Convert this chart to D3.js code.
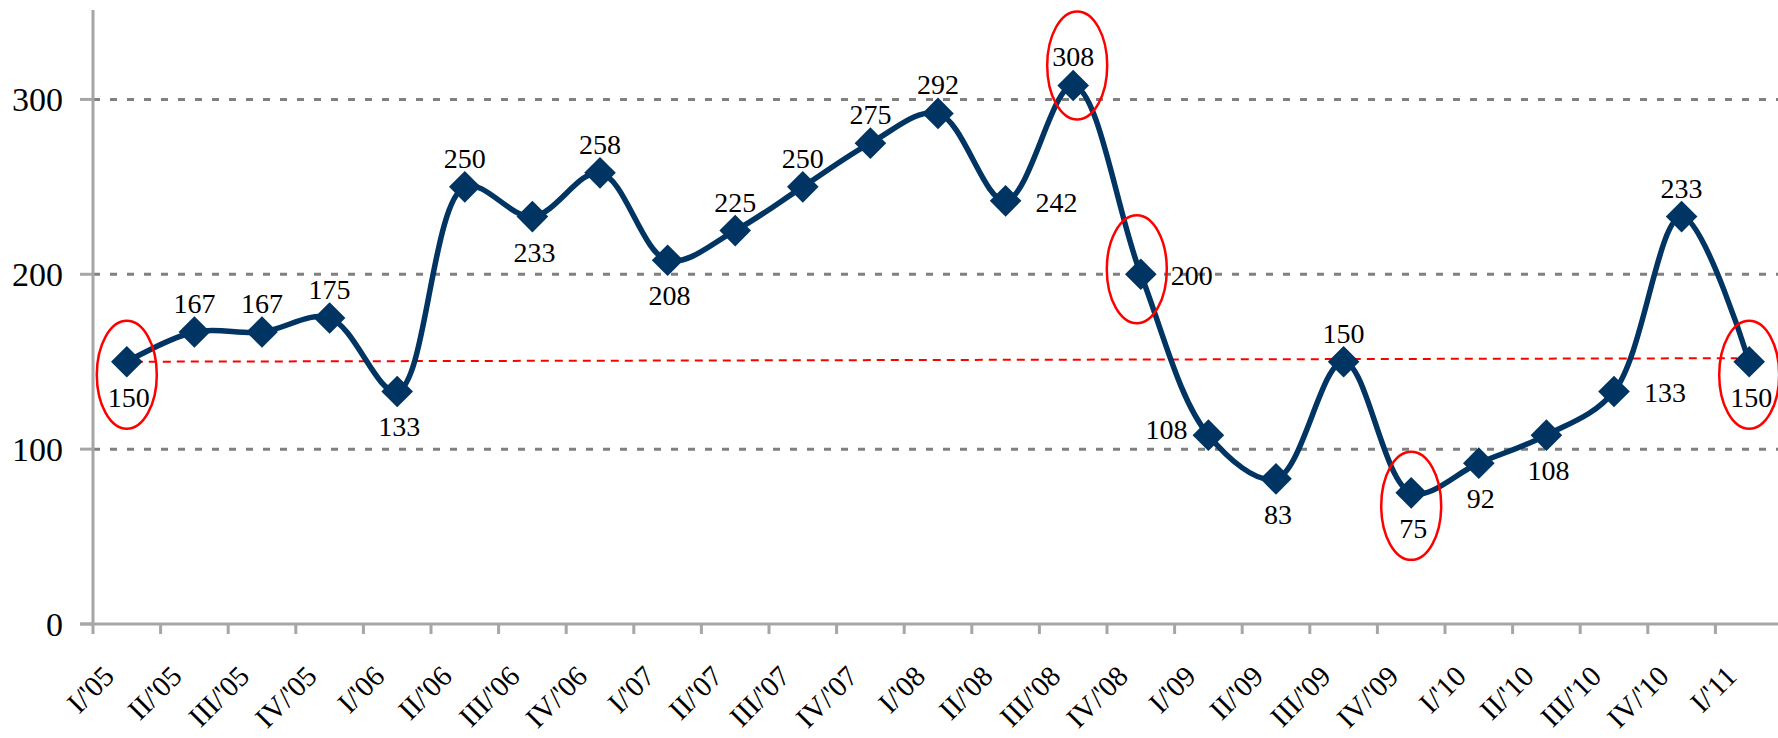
<!DOCTYPE html>
<html>
<head>
<meta charset="utf-8">
<script src="https://cdn.jsdelivr.net/npm/d3@7"></script>
<style>
  html, body { margin: 0; padding: 0; background: #fff; }
  #vis-display { width: 1778px; height: 738px; }
  text { font-family: "Liberation Serif", "Times New Roman", serif; fill: #000; }
</style>
</head>
<body>
<div id="vis-display"></div>
<script>
// Quarterly index, smoothed line with diamond markers; a few points circled in red
// and a dashed red reference line drawn from the first to the last quarter.

const CATEGORIES = [
  "I/'05", "II/'05", "III/'05", "IV/'05",
  "I/'06", "II/'06", "III/'06", "IV/'06",
  "I/'07", "II/'07", "III/'07", "IV/'07",
  "I/'08", "II/'08", "III/'08", "IV/'08",
  "I/'09", "II/'09", "III/'09", "IV/'09",
  "I/'10", "II/'10", "III/'10", "IV/'10",
  "I/'11",
];

const VALUES = [
  150, 167, 167, 175,
  133, 250, 233, 258,
  208, 225, 250, 275,
  292, 242, 308, 200,
  108,  83, 150,  75,
   92, 108, 133, 233,
  150,
];

// where each data label sits relative to its marker
const LABEL_POS = [
  "below", "above", "above", "above",
  "below", "above", "below", "above",
  "below", "above", "above", "above",
  "above", "right", "above", "right",
  "left",  "below", "above", "below",
  "below", "below", "right", "above",
  "below",
];

const CIRCLED   = [0, 14, 15, 19, 24];
const Y_TICKS   = [0, 100, 200, 300];
const REF_LINE  = [150, 152];   // start / end value of the red dashed line

const W = 1778, H = 738;
const margin = { top: 12, left: 93, bottom: 114 };
const NAVY = "#003462";
const AXIS = "#a6a6a6";

const svg = d3.select("#vis-display").append("svg")
  .attr("width", W)
  .attr("height", H);

// ── Scales ──────────────────────────────────────────────────────────────────

const x = d3.scaleBand()
  .domain(CATEGORIES)
  .range([margin.left, margin.left + 25 * 67.6])
  .padding(0);

const y = d3.scaleLinear()
  .domain([0, 350])
  .range([H - margin.bottom, margin.top]);

const cx = i => x(CATEGORIES[i]) + x.bandwidth() / 2;
const y0 = y(0);

// ── Gridlines ───────────────────────────────────────────────────────────────

svg.append("g")
  .selectAll("line")
  .data(Y_TICKS.filter(d => d > 0))
  .join("line")
    .attr("x1", margin.left).attr("x2", W)
    .attr("y1", d => y(d)).attr("y2", d => y(d))
    .attr("stroke", "#808080")
    .attr("stroke-width", 3)
    .attr("stroke-dasharray", "7,10");

// ── Axes ────────────────────────────────────────────────────────────────────

const axisG = svg.append("g");

axisG.append("line")
  .attr("x1", margin.left).attr("x2", margin.left)
  .attr("y1", y(350) - 2).attr("y2", y0)
  .attr("stroke", AXIS).attr("stroke-width", 3);

axisG.append("line")
  .attr("x1", margin.left - 13).attr("x2", W)
  .attr("y1", y0).attr("y2", y0)
  .attr("stroke", AXIS).attr("stroke-width", 3);

axisG.selectAll(".ytick")
  .data(Y_TICKS)
  .join("line")
    .attr("class", "ytick")
    .attr("x1", margin.left - 13).attr("x2", margin.left)
    .attr("y1", d => y(d)).attr("y2", d => y(d))
    .attr("stroke", AXIS).attr("stroke-width", 3);

axisG.selectAll(".ylab")
  .data(Y_TICKS)
  .join("text")
    .attr("class", "ylab")
    .attr("x", margin.left - 30)
    .attr("y", d => y(d))
    .attr("text-anchor", "end")
    .attr("dominant-baseline", "central")
    .style("font-size", "34px")
    .text(d => d);

axisG.selectAll(".xtick")
  .data(d3.range(CATEGORIES.length + 1))
  .join("line")
    .attr("class", "xtick")
    .attr("x1", i => margin.left + i * x.step())
    .attr("x2", i => margin.left + i * x.step())
    .attr("y1", y0).attr("y2", y0 + 10)
    .attr("stroke", AXIS).attr("stroke-width", 3);

// rotated labels: baseline end sits a little left of the category centre
axisG.selectAll(".xlab")
  .data(CATEGORIES)
  .join("text")
    .attr("class", "xlab")
    .attr("transform", (d, i) => `translate(${cx(i) - 11},${y0 + 54}) rotate(-45)`)
    .attr("text-anchor", "end")
    .style("font-size", "29px")
    .text(d => d);

// ── Red reference line ──────────────────────────────────────────────────────

svg.append("line")
  .attr("x1", cx(0) + 8).attr("x2", cx(CATEGORIES.length - 1) - 12)
  .attr("y1", y(REF_LINE[0])).attr("y2", y(REF_LINE[1]))
  .attr("stroke", "#ff0000")
  .attr("stroke-width", 2)
  .attr("stroke-dasharray", "8,6");

// ── Series ──────────────────────────────────────────────────────────────────

const pts = VALUES.map((v, i) => ({ i, v, x: cx(i), y: y(v), pos: LABEL_POS[i] }));

svg.append("path")
  .datum(pts)
  .attr("fill", "none")
  .attr("stroke", NAVY)
  .attr("stroke-width", 5.5)
  .attr("stroke-linejoin", "round")
  .attr("d", d3.line().x(d => d.x).y(d => d.y).curve(d3.curveCatmullRom.alpha(0.5)));

svg.append("g")
  .selectAll("path")
  .data(pts)
  .join("path")
    .attr("transform", d => `translate(${d.x},${d.y}) rotate(45)`)
    .attr("d", d3.symbol(d3.symbolSquare, 500))
    .attr("fill", NAVY);

// ── Data labels ─────────────────────────────────────────────────────────────

const LABEL_OFFSET = {
  above: { dx: 0,   dy: -19, anchor: "middle" },
  below: { dx: 2,   dy: 45,  anchor: "middle" },
  right: { dx: 30,  dy: 11,  anchor: "start"  },
  left:  { dx: -21, dy: 4,   anchor: "end"    },
};

svg.append("g")
  .selectAll("text")
  .data(pts)
  .join("text")
    .attr("x", d => d.x + LABEL_OFFSET[d.pos].dx)
    .attr("y", d => d.y + LABEL_OFFSET[d.pos].dy)
    .attr("text-anchor", d => LABEL_OFFSET[d.pos].anchor)
    .style("font-size", "28px")
    .text(d => d.v);

// ── Red ellipses round the highlighted points ──────────────────────────────

const ELLIPSE_OFFSET = { above: [4, -20], below: [0, 13], right: [-4, -5], left: [0, 0] };

svg.append("g")
  .selectAll("ellipse")
  .data(CIRCLED.map(i => pts[i]))
  .join("ellipse")
    .attr("cx", d => d.x + ELLIPSE_OFFSET[d.pos][0])
    .attr("cy", d => d.y + ELLIPSE_OFFSET[d.pos][1])
    .attr("rx", 30)
    .attr("ry", 54)
    .attr("fill", "none")
    .attr("stroke", "#ff0000")
    .attr("stroke-width", 2.5);
</script>
</body>
</html>
